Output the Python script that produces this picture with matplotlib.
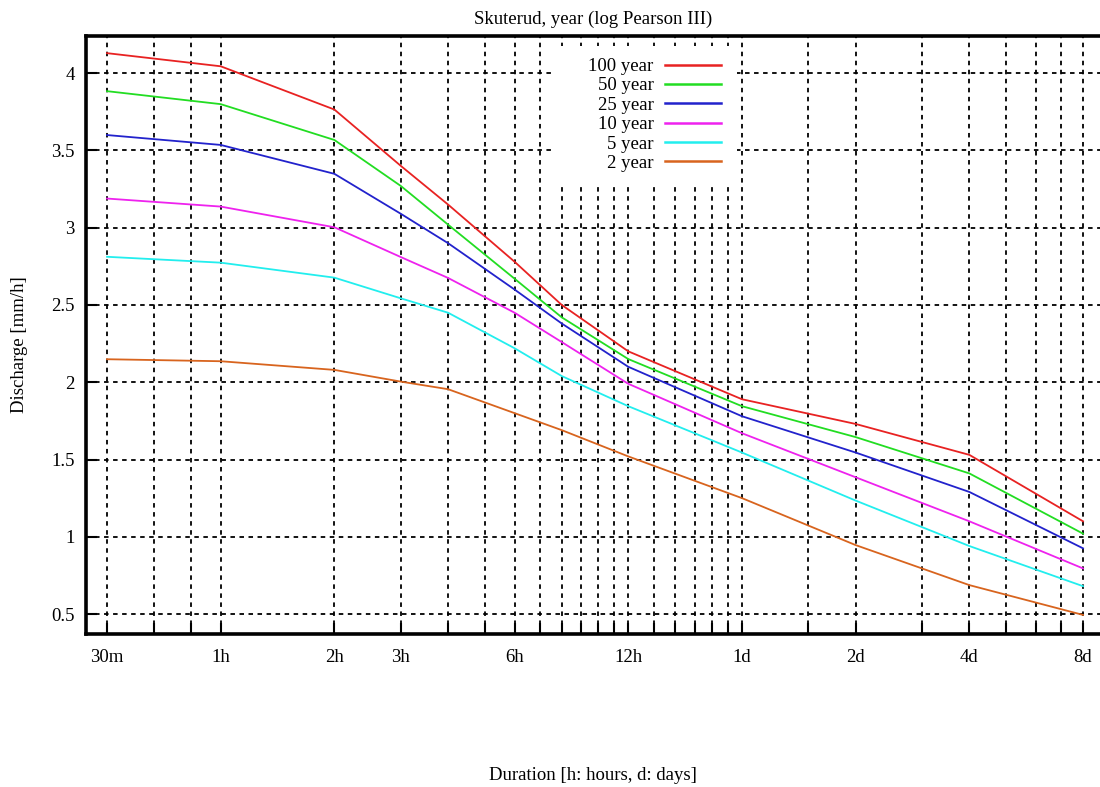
import numpy as np
import matplotlib
matplotlib.use("Agg")
import matplotlib.pyplot as plt
from matplotlib.patches import Rectangle

# ---- data (duration in hours, discharge in mm/h) ----
durations_h = [0.5, 1, 2, 3, 4, 6, 8, 12, 24, 48, 96, 192]
q100 = [4.13, 4.045, 3.765, 3.40, 3.15, 2.78, 2.50, 2.20, 1.89, 1.73, 1.53, 1.10]
q50 = [3.884, 3.80, 3.568, 3.27, 3.02, 2.67, 2.42, 2.15, 1.845, 1.645, 1.41, 1.02]
q25 = [3.60, 3.536, 3.349, 3.09, 2.90, 2.60, 2.38, 2.10, 1.78, 1.545, 1.29, 0.925]
q10 = [3.189, 3.137, 3.003, 2.81, 2.675, 2.45, 2.26, 1.99, 1.67, 1.385, 1.10, 0.795]
q5 = [2.812, 2.774, 2.677, 2.543, 2.45, 2.22, 2.04, 1.845, 1.545, 1.234, 0.94, 0.68]
q2 = [2.149, 2.136, 2.08, 2.004, 1.955, 1.80, 1.69, 1.52, 1.25, 0.946, 0.687, 0.494]

series_labels = ["100 year", "50 year", "25 year", "10 year", "5 year", "2 year"]
series_values = [q100, q50, q25, q10, q5, q2]
series_colors = ["#e82222", "#22dd22", "#2222cc", "#ee22ee", "#22eeee", "#d8641e"]

grid_positions_h = [0.5, 40/60, 50/60, 1, 2, 3, 4, 5, 6, 7, 8, 9, 10, 11, 12,
                    14, 16, 18, 20, 22, 24, 36, 48, 72, 96, 120, 144, 168, 192]
labeled_ticks = {0.5: "30m", 1: "1h", 2: "2h", 3: "3h", 6: "6h", 12: "12h",
                 24: "1d", 48: "2d", 96: "4d", 192: "8d"}
y_ticks = [0.5, 1, 1.5, 2, 2.5, 3, 3.5, 4]
y_ticklabels = ["0.5", "1", "1.5", "2", "2.5", "3", "3.5", "4"]

title = "Skuterud, year (log Pearson III)"
xlabel = "Duration [h: hours, d: days]"
ylabel = "Discharge [mm/h]"

# ---- figure ----
plt.rcParams['font.family'] = ['Liberation Serif', 'DejaVu Serif']
W, H = 1100, 787
fig = plt.figure(figsize=(W/100, H/100), dpi=100)

ax_l, ax_r, ax_t, ax_b = 86, 1100, 36, 634
ax = fig.add_axes([ax_l/W, 1 - ax_b/H, (ax_r-ax_l)/W, (ax_b-ax_t)/H])
ax.set_xscale('log')
ax.set_xlim(0.4399, 212.9)
ax.set_ylim(0.3706, 4.241)
ax.set_axisbelow(True)

for vals, lab, col in zip(series_values, series_labels, series_colors):
    ax.plot(durations_h, vals, color=col, lw=1.3, label=lab, zorder=3)

ax.xaxis.set_major_locator(matplotlib.ticker.FixedLocator(grid_positions_h))
ax.xaxis.set_minor_locator(matplotlib.ticker.NullLocator())
ax.set_xticklabels([labeled_ticks.get(p, "") for p in grid_positions_h])
ax.set_yticks(y_ticks)
ax.set_yticklabels(y_ticklabels)

ax.grid(True, which='major', color='black', linestyle=(0, (2.5, 2.5)), linewidth=1.3)
ax.tick_params(axis='both', direction='in', length=8, width=1.5, labelsize=13.5,
               top=False, right=False, colors='black')
ax.tick_params(axis='x', pad=11)
ax.tick_params(axis='y', pad=8)

for s in ['left', 'bottom', 'top']:
    ax.spines[s].set_linewidth(2.6)
ax.spines['right'].set_visible(False)

# blank area behind legend
rx0, rx1, ry0, ry1 = 552, 737, 46, 183
ax.add_patch(Rectangle(((rx0-ax_l)/(ax_r-ax_l), (ax_b-ry1)/(ax_b-ax_t)),
                       (rx1-rx0)/(ax_r-ax_l), (ry1-ry0)/(ax_b-ax_t),
                       transform=ax.transAxes, facecolor='white', edgecolor='none', zorder=1))

leg = ax.legend(loc='upper right', bbox_to_anchor=(721/W, 1 - 58/H),
                bbox_transform=fig.transFigure, frameon=False, markerfirst=False,
                fontsize=13.5, handlelength=3.0, handletextpad=0.6,
                labelspacing=0.12, borderpad=0, borderaxespad=0)
for l in leg.get_lines():
    l.set_linewidth(1.8)

ax.set_title(title, fontsize=13.5, pad=9)
fig.text(593/W, 1 - 775/H, xlabel, ha='center', va='center', fontsize=13.5)
fig.text(20/W, 1 - 345/H, ylabel, ha='center', va='center', rotation=90, fontsize=13.5)

fig.savefig("out.png", dpi=100)
